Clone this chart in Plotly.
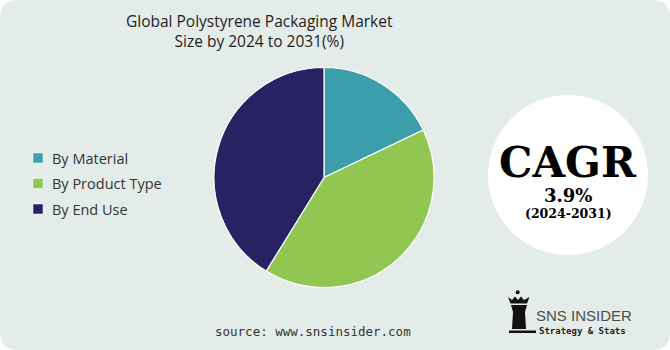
import plotly.graph_objects as go

W, H = 670, 350

# ---- data ----
labels = ["By Material", "By Product Type", "By End Use"]
values = [17.9, 40.9, 41.2]
colors = ["#3d9eab", "#92c653", "#272262"]
title_lines = ["Global Polystyrene Packaging Market", "Size by 2024 to 2031(%)"]
cagr_value = "3.9%"
cagr_period = "(2024-2031)"
source_text = "source: www.snsinsider.com"

def px(x):
    return x / W

def py(y):
    return 1 - y / H

fig = go.Figure()

fig.add_trace(go.Pie(
    labels=labels,
    values=values,
    marker=dict(colors=colors, line=dict(color="white", width=1.2)),
    sort=False,
    direction="clockwise",
    rotation=0,
    textinfo="none",
    showlegend=False,
    domain=dict(x=[px(214), px(434)], y=[py(287.5), py(67.5)]),
))

shapes = []
# rounded background card
rx, ry = 18 / W, 18 / H
path = (f"M {rx},0 L {1-rx},0 Q 1,0 1,{ry} L 1,{1-ry} Q 1,1 {1-rx},1 "
        f"L {rx},1 Q 0,1 0,{1-ry} L 0,{ry} Q 0,0 {rx},0 Z")
shapes.append(dict(type="path", xref="paper", yref="paper", path=path,
                   fillcolor="#e4ecea", line=dict(width=0), layer="below"))
# CAGR circle
shapes.append(dict(type="circle", xref="paper", yref="paper",
                   x0=px(488), x1=px(648), y0=py(255), y1=py(95),
                   fillcolor="white", line=dict(width=0), layer="below"))

annotations = []
# title
annotations.append(dict(text="<br>".join(title_lines), x=px(259), y=py(31),
                        xref="paper", yref="paper", showarrow=False,
                        xanchor="center", yanchor="middle",
                        font=dict(family="Open Sans", size=15.5, color="#1e1e1e")))

# manual legend
leg_y = [158, 183.5, 209]
for lab, col, yy in zip(labels, colors, leg_y):
    shapes.append(dict(type="rect", xref="paper", yref="paper",
                       x0=px(33), x1=px(43), y0=py(yy + 5), y1=py(yy - 5),
                       fillcolor=col, line=dict(width=0.5, color="white")))
    annotations.append(dict(text=lab, x=px(50), y=py(yy), xref="paper", yref="paper",
                            showarrow=False, xanchor="left", yanchor="middle",
                            font=dict(family="Open Sans", size=14.5, color="#333333")))

# CAGR text
annotations.append(dict(text="<b>CAGR</b>", x=px(568), y=py(162), xref="paper", yref="paper",
                        showarrow=False, xanchor="center", yanchor="middle",
                        font=dict(family="DejaVu Serif", size=42, color="#000000")))
annotations.append(dict(text=f"<b>{cagr_value}</b>", x=px(568), y=py(195), xref="paper", yref="paper",
                        showarrow=False, xanchor="center", yanchor="middle",
                        font=dict(family="DejaVu Serif", size=18, color="#000000")))
annotations.append(dict(text=f"<b>{cagr_period}</b>", x=px(568), y=py(213.5), xref="paper", yref="paper",
                        showarrow=False, xanchor="center", yanchor="middle",
                        font=dict(family="DejaVu Serif", size=12.5, color="#000000")))

# source
annotations.append(dict(text=source_text, x=px(313), y=py(331), xref="paper", yref="paper",
                        showarrow=False, xanchor="center", yanchor="middle",
                        font=dict(family="DejaVu Sans Mono", size=12.5, color="#333333")))

# logo: rook icon
logo_col = "#111111"
shapes.append(dict(type="circle", xref="paper", yref="paper",
                   x0=px(515.7), x1=px(519.7), y0=py(294.3), y1=py(290.3),
                   fillcolor=logo_col, line=dict(width=0)))
crown = (f"M {px(508)},{py(297)} L {px(512)},{py(300)} L {px(515)},{py(296.5)} "
         f"L {px(518)},{py(300)} L {px(521)},{py(296.5)} L {px(524)},{py(300)} "
         f"L {px(529.5)},{py(297)} L {px(527)},{py(303.5)} L {px(510.5)},{py(303.5)} Z")
shapes.append(dict(type="path", xref="paper", yref="paper", path=crown,
                   fillcolor=logo_col, line=dict(width=0)))
body = (f"M {px(511)},{py(305)} L {px(527)},{py(305)} L {px(525)},{py(312)} "
        f"L {px(526)},{py(329)} L {px(512)},{py(329)} L {px(513)},{py(312)} Z")
shapes.append(dict(type="path", xref="paper", yref="paper", path=body,
                   fillcolor=logo_col, line=dict(width=0)))
shapes.append(dict(type="rect", xref="paper", yref="paper",
                   x0=px(509), x1=px(536), y0=py(333), y1=py(330.5),
                   fillcolor=logo_col, line=dict(width=0)))
annotations.append(dict(text="SNS INSIDER", x=px(534), y=py(315.5), xref="paper", yref="paper",
                        showarrow=False, xanchor="left", yanchor="middle",
                        font=dict(family="Liberation Sans", size=15, color="#4d4d4d")))
annotations.append(dict(text="<b>Strategy &amp; Stats</b>", x=px(537), y=py(330.5), xref="paper", yref="paper",
                        showarrow=False, xanchor="left", yanchor="middle",
                        font=dict(family="DejaVu Sans Mono", size=9, color="#222222")))

fig.update_layout(
    width=W, height=H,
    margin=dict(l=0, r=0, t=0, b=0),
    paper_bgcolor="white",
    plot_bgcolor="white",
    shapes=shapes,
    annotations=annotations,
    showlegend=False,
)

fig.write_html("out.html")
